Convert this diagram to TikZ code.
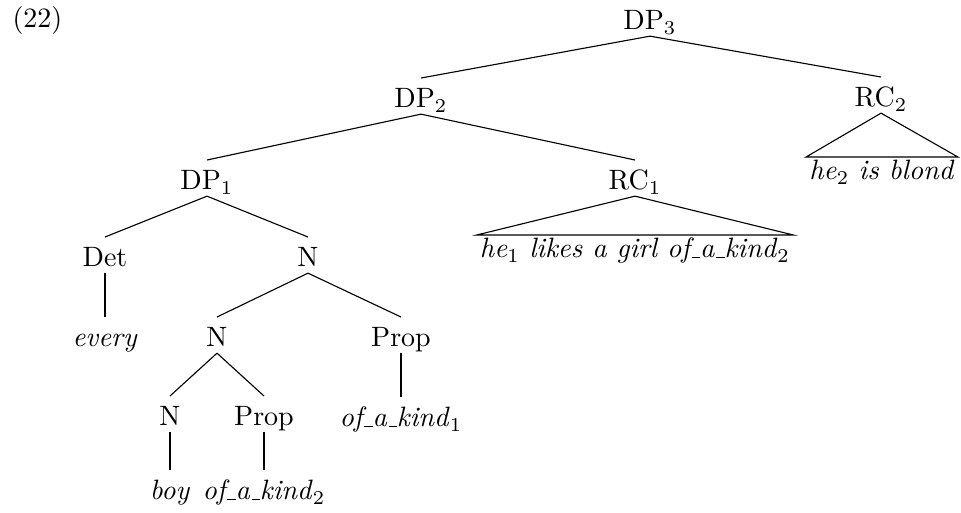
\documentclass[tikz,border=0pt]{standalone}
\newcommand{\us}{\leavevmode\kern.06em\vbox{\hrule width.3em}}
\begin{document}
\begin{tikzpicture}[x=0.357pt,y=-0.357pt,
  tn/.style={anchor=base,inner sep=0pt,text height=10.5pt,text depth=2pt},
  tri/.style={anchor=base,inner ysep=0pt,inner xsep=1pt,text height=8pt,text depth=0pt},
  edge/.style={line width=0.4pt}]
\useasboundingbox (0,0) rectangle (961,513);
\node[anchor=base west,inner sep=0pt] (ex) at (12,28) {(22)};
\node[tn] (DP3) at (650,30) {DP$_3$};
\node[tn] (DP2) at (421,108) {DP$_2$};
\node[tn] (RC2) at (881,107) {RC$_2$};
\node[tn] (DP1) at (207,190) {DP$_1$};
\node[tn] (RC1) at (635,190) {RC$_1$};
\node[tri] (t1) at (635,258) {\textit{he}$_1$ \textit{likes a girl of\us a\us kind}$_2$};
\node[tri] (t2) at (882,180) {\textit{he}$_2$ \textit{is blond}};
\node[tn] (Det) at (105,267) {Det};
\node[tn] (N1) at (308,267) {N};
\node[tn] (every) at (105,347) {\textit{every}};
\node[tn] (N2) at (217,347) {N};
\node[tn] (Prop1) at (401,347) {Prop};
\node[tn] (N3) at (170,426) {N};
\node[tn] (Prop2) at (264,426) {Prop};
\node[tn] (kind1) at (401,427) {\textit{of\us a\us kind}$_1$};
\node[tn] (boy) at (170,500) {\textit{boy}};
\node[tn] (kind2) at (264,500) {\textit{of\us a\us kind}$_2$};
\draw[edge] (DP3.south) -- (DP2.north);
\draw[edge] (DP3.south) -- (RC2.north);
\draw[edge] (DP2.south) -- (DP1.north);
\draw[edge] (DP2.south) -- (RC1.north);
\draw[edge] (RC1.south) -- (t1.north west) -- (t1.north east) -- cycle;
\draw[edge] (RC2.south) -- (t2.north west) -- (t2.north east) -- cycle;
\draw[edge] (DP1.south) -- (Det.north);
\draw[edge] (DP1.south) -- (N1.north);
\draw[edge] (Det.south) -- (every.north);
\draw[edge] (N1.south) -- (N2.north);
\draw[edge] (N1.south) -- (Prop1.north);
\draw[edge] (N2.south) -- (N3.north);
\draw[edge] (N2.south) -- (Prop2.north);
\draw[edge] (Prop1.south) -- (kind1.north);
\draw[edge] (N3.south) -- (boy.north);
\draw[edge] (Prop2.south) -- (kind2.north);
\end{tikzpicture}
\end{document}
